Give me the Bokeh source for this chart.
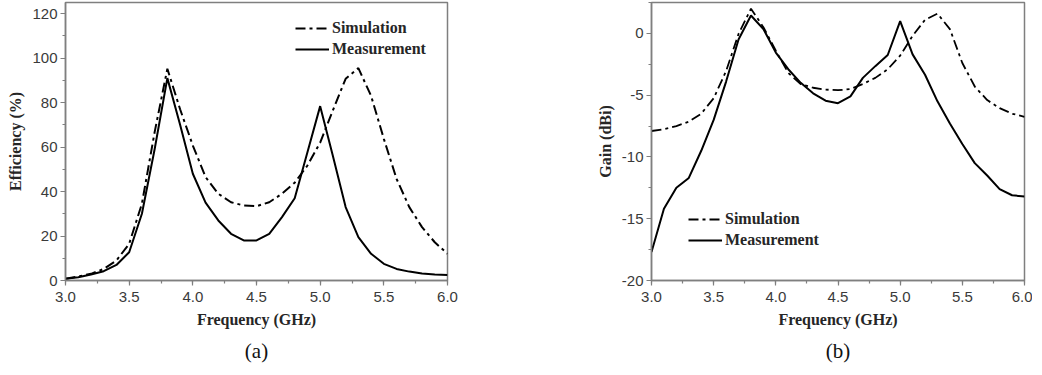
from bokeh.plotting import figure
from bokeh.layouts import row
from bokeh.models import (SingleIntervalTicker, PrintfTickFormatter, Legend,
                          LegendItem, LinearAxis, FixedTicker, Range1d)
from bokeh.embed import file_html
from bokeh.resources import INLINE

# ---------------- data ----------------
freq = [3.0, 3.1, 3.2, 3.3, 3.4, 3.5, 3.6, 3.7, 3.8, 3.9, 4.0,
        4.1, 4.2, 4.3, 4.4, 4.5, 4.6, 4.7, 4.8, 4.9, 5.0,
        5.1, 5.2, 5.3, 5.4, 5.5, 5.6, 5.7, 5.8, 5.9, 6.0]

eff_sim = [0.8, 1.8, 3.0, 5.2, 9.0, 16.5, 34.5, 66.7, 95.2, 77.0, 60.7,
           46.5, 39.0, 35.2, 33.7, 33.4, 35.2, 39.0, 44.0, 51.7, 62.0,
           76.5, 90.7, 95.5, 83.0, 63.7, 45.7, 33.0, 24.0, 17.2, 12.0]
eff_meas = [0.8, 1.5, 2.7, 4.2, 7.0, 12.7, 30.0, 59.0, 91.0, 70.0, 48.0,
            35.0, 27.0, 21.0, 18.0, 18.0, 21.0, 28.5, 37.0, 57.7, 78.4,
            56.0, 33.0, 19.5, 12.0, 7.5, 5.2, 4.0, 3.1, 2.7, 2.5]

gain_sim = [-7.9, -7.75, -7.5, -7.15, -6.5, -5.25, -3.05, -0.05, 2.0, 0.5, -1.4,
            -3.2, -4.1, -4.4, -4.55, -4.6, -4.5, -4.1, -3.6, -2.9, -1.8,
            -0.2, 1.1, 1.6, 0.35, -2.4, -4.3, -5.4, -6.05, -6.5, -6.75]
gain_meas = [-17.7, -14.2, -12.5, -11.7, -9.5, -7.0, -3.9, -0.5, 1.45, 0.35, -1.55,
             -2.9, -4.0, -4.85, -5.45, -5.65, -5.1, -3.6, -2.65, -1.75, 1.0,
             -1.7, -3.35, -5.5, -7.3, -8.95, -10.5, -11.5, -12.6, -13.1, -13.2]

series_names = ["Simulation", "Measurement"]
panel_tags = ["(a)", "(b)"]

# ---------------- style ----------------
FRAME = "#7f7f7f"
TICKTXT = "#3a3a3a"
LABTXT = "#262626"
SERIF = "Liberation Serif"
SANS = "Liberation Sans"
DASHDOT = "10 4 3 4"


def style(p, xlabel, ylabel, yint, yminor):
    p.outline_line_color = FRAME
    p.outline_line_width = 1.5
    p.xgrid.visible = False
    p.ygrid.visible = False
    p.xaxis.ticker = SingleIntervalTicker(interval=0.5, num_minor_ticks=2)
    p.yaxis.ticker = SingleIntervalTicker(interval=yint, num_minor_ticks=yminor)
    p.xaxis.formatter = PrintfTickFormatter(format="%.1f")
    p.yaxis.formatter = PrintfTickFormatter(format="%d")
    for ax in (p.xaxis, p.yaxis):
        ax.axis_line_color = FRAME
        ax.axis_line_width = 1.5
        ax.major_tick_line_color = FRAME
        ax.minor_tick_line_color = FRAME
        ax.major_tick_line_width = 1.2
        ax.minor_tick_line_width = 1.2
        ax.major_tick_out = 5
        ax.major_tick_in = 0
        ax.minor_tick_out = 3
        ax.minor_tick_in = 0
        ax.major_label_text_font = SANS
        ax.major_label_text_font_size = "15px"
        ax.major_label_text_color = TICKTXT
        ax.axis_label_text_font = SERIF
        ax.axis_label_text_font_style = "bold"
        ax.axis_label_text_font_size = "16px"
        ax.axis_label_text_color = LABTXT
    p.xaxis.axis_label = xlabel
    p.yaxis.axis_label = ylabel
    p.xaxis.major_label_standoff = 6
    p.yaxis.major_label_standoff = 3
    p.xaxis.axis_label_standoff = 6
    p.yaxis.axis_label_standoff = 5


def add_legend(p, r_sim, r_meas, loc):
    leg = Legend(items=[LegendItem(label=series_names[0], renderers=[r_sim]),
                        LegendItem(label=series_names[1], renderers=[r_meas])],
                 location=loc, padding=0, margin=0, spacing=3,
                 glyph_width=34, glyph_height=18, label_height=18,
                 label_standoff=3, border_line_alpha=0, background_fill_alpha=0,
                 label_text_font=SERIF, label_text_font_style="bold",
                 label_text_font_size="16px", label_text_color=LABTXT)
    p.add_layout(leg, "center")


def add_tag(p, text):
    # panel tag "(a)"/"(b)" as a tick-less caption axis under the x axis
    cap = LinearAxis(ticker=FixedTicker(ticks=[]), axis_label=text,
                     axis_line_alpha=0, major_tick_out=0, major_tick_in=0,
                     minor_tick_out=0, minor_tick_in=0, axis_label_standoff=8,
                     axis_label_text_font=SERIF, axis_label_text_font_style="normal",
                     axis_label_text_font_size="21px", axis_label_text_color="#111111")
    p.add_layout(cap, "below")


# ---------------- (a) efficiency ----------------
p1 = figure(width=593, height=367, output_backend="svg", toolbar_location=None,
            x_range=Range1d(3.0, 6.0), y_range=Range1d(0, 125),
            min_border_left=65, min_border_right=146, min_border_top=2,
            min_border_bottom=87, background_fill_color="white",
            border_fill_color="white")
style(p1, "Frequency (GHz)", "Efficiency (%)", 20, 2)
s1 = p1.line(freq, eff_sim, line_color="black", line_width=2, line_dash=DASHDOT)
m1 = p1.line(freq, eff_meas, line_color="black", line_width=2)
add_legend(p1, s1, m1, (230, 222))
add_tag(p1, panel_tags[0])

# ---------------- (b) gain ----------------
p2 = figure(width=439, height=367, output_backend="svg", toolbar_location=None,
            x_range=Range1d(3.0, 6.0), y_range=Range1d(-20, 2.5),
            min_border_left=57, min_border_right=8, min_border_top=2,
            min_border_bottom=87, background_fill_color="white",
            border_fill_color="white")
style(p2, "Frequency (GHz)", "Gain (dBi)", 5, 2)
s2 = p2.line(freq, gain_sim, line_color="black", line_width=1.8, line_dash=DASHDOT)
m2 = p2.line(freq, gain_meas, line_color="black", line_width=2)
add_legend(p2, s2, m2, (37, 31))
add_tag(p2, panel_tags[1])

layout = row(p1, p2, spacing=0)
open("out.html", "w").write(file_html(layout, INLINE))
